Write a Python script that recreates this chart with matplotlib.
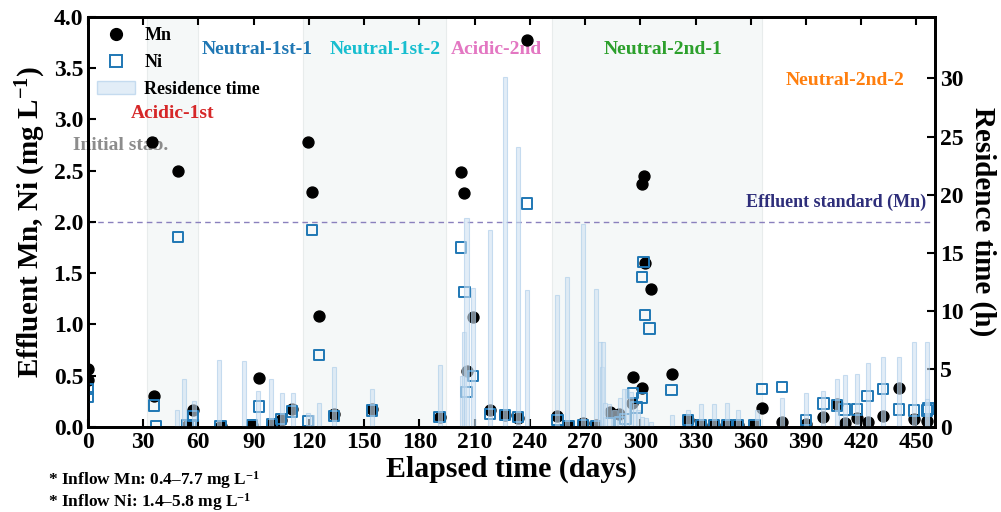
import matplotlib
matplotlib.use("Agg")
import matplotlib.pyplot as plt
from matplotlib.lines import Line2D
from matplotlib.patches import Patch

plt.rcParams['font.family'] = ['Liberation Serif', 'DejaVu Serif']
plt.rcParams['font.weight'] = 'bold'
plt.rcParams['mathtext.fontset'] = 'custom'
plt.rcParams['mathtext.rm'] = 'Liberation Serif:bold'
plt.rcParams['mathtext.it'] = 'Liberation Serif:bold'
plt.rcParams['mathtext.bf'] = 'Liberation Serif:bold'

# ---------------- data ----------------
mn_day = [0, 0, 35, 36, 49, 54, 57, 72, 89, 93, 100, 105, 111, 119.6, 121.7, 125.6,
          133.7, 154.3, 191, 202.5, 204.5, 206, 209, 218.5, 226.7, 233.7, 238.6, 255,
          261, 269, 276, 283.5, 288.5, 295.6, 296.3, 301, 300.8, 301.8, 302.7, 306, 317,
          326, 333, 340, 347, 353, 362, 366, 377, 390, 399.5, 406.7, 411, 417.6, 423.5,
          432, 440.5, 448.6, 455.6]
mn_val = [0.57, 0.46, 2.78, 0.30, 2.50, 0.01, 0.17, 0.01, 0.02, 0.48, 0.03, 0.07, 0.18,
          2.78, 2.29, 1.08, 0.13, 0.18, 0.10, 2.49, 2.28, 0.55, 1.07, 0.17, 0.12, 0.09,
          3.77, 0.11, 0.01, 0.04, 0.02, 0.15, 0.13, 0.23, 0.49, 0.38, 2.37, 2.45, 1.60,
          1.35, 0.52, 0.07, 0.02, 0.02, 0.02, 0.02, 0.02, 0.19, 0.05, 0.03, 0.10, 0.22,
          0.04, 0.09, 0.05, 0.11, 0.38, 0.08, 0.06]

ni_day = [0, 0, 36, 37, 49, 54, 56, 57, 72, 89, 93, 100, 105, 111, 119.6, 121.7, 125.6,
          133.7, 154.3, 191, 202.5, 204.5, 205.6, 209, 218.5, 226.7, 233.7, 238.6, 255,
          261, 269, 276, 283, 289, 292, 296, 298, 301, 300.8, 301.8, 302.5, 305, 317, 326,
          333, 340, 347, 353, 362, 366, 377, 390, 399.5, 406.7, 411, 417.6, 423.5, 432,
          440.5, 448.6, 455.6, 456.5]
ni_val = [0.37, 0.29, 0.21, 0.01, 1.85, 0.02, 0.02, 0.11, 0.01, 0.02, 0.20, 0.03, 0.08,
          0.15, 0.06, 1.92, 0.70, 0.11, 0.16, 0.10, 1.75, 1.32, 0.34, 0.50, 0.13, 0.12,
          0.10, 2.18, 0.07, 0.01, 0.02, 0.01, 0.04, 0.05, 0.08, 0.33, 0.19, 0.28, 1.46,
          1.61, 1.09, 0.96, 0.36, 0.07, 0.02, 0.02, 0.02, 0.02, 0.02, 0.37, 0.39, 0.07,
          0.23, 0.21, 0.17, 0.17, 0.30, 0.37, 0.17, 0.16, 0.16, 0.18]

rt_day = [48.5, 52, 57.6, 71, 85, 92.5, 99.5, 105.5, 111.4, 119.6, 121.7, 125.6, 133.7,
          154.3, 191, 203, 204, 205.6, 209, 218.5, 226.7, 233.7, 238.6, 255, 260.4, 269,
          276, 278, 279, 280, 281, 283, 286, 289, 291, 293, 295, 297, 299, 301, 303, 306,
          317, 326, 333, 340, 347, 353, 363.6, 377, 390, 399.5, 406.7, 411, 417.6, 423.5,
          432, 440.5, 448.6, 455.6, 456]
rt_val = [1.5, 4.1, 2.2, 5.8, 5.7, 3.1, 4.1, 2.9, 2.9, 1.2, 1.0, 2.1, 5.2, 3.3, 5.3, 4.4,
          8.2, 18.0, 12.0, 17.0, 30.1, 24.1, 11.8, 11.4, 12.9, 17.5, 11.9, 7.3, 5.2, 7.3,
          2.1, 2.0, 1.5, 2.5, 3.3, 3.3, 3.0, 2.0, 1.5, 0.9, 0.8, 0.4, 1.0, 1.5, 2.0, 2.0,
          2.1, 1.5, 1.5, 2.5, 2.9, 3.1, 4.1, 4.5, 4.6, 5.5, 6.0, 6.0, 7.3, 7.3, 2.4]

shaded_spans = [(32, 60), (117, 194.5), (252, 366)]
phase_names = ["Initial stab.", "Acidic-1st", "Neutral-1st-1", "Neutral-1st-2",
               "Acidic-2nd", "Neutral-2nd-1", "Neutral-2nd-2"]
phase_x = [17.5, 46, 92, 161.5, 222, 312.5, 411.5]
phase_y = [2.75, 3.06, 3.68, 3.68, 3.68, 3.68, 3.38]
phase_colors = ["#8c8c8c", "#d62728", "#1f77b4", "#17becf", "#e377c2", "#2ca02c", "#ff7f0e"]

standard_mn = 2.0
x_ticks = list(range(0, 451, 30))
y_ticks = [0.0, 0.5, 1.0, 1.5, 2.0, 2.5, 3.0, 3.5, 4.0]
y2_ticks = [0, 5, 10, 15, 20, 25, 30]

# ---------------- figure ----------------
fig = plt.figure(figsize=(10.01, 5.12), dpi=100)
ax = fig.add_axes([0.0879, 0.166, 0.846, 0.801])
ax2 = ax.twinx()

for a, b in shaded_spans:
    ax.axvspan(a, b, facecolor="#f5f8f8", edgecolor="#e8ecec", linewidth=0.8, zorder=0)

ax.axhline(standard_mn, color="#8a80bd", linestyle=(0, (4, 3)), linewidth=1.0, zorder=1)
ax.text(455, 2.19, "Effluent standard (Mn)", color="#2e2e7a", fontsize=13,
        fontweight="bold", ha="right", va="center", zorder=1)

for name, xx, yy, cc in zip(phase_names, phase_x, phase_y, phase_colors):
    ax.text(xx, yy, name, color=cc, fontsize=14, fontweight="bold",
            ha="center", va="center", zorder=1)

ax.scatter(mn_day, mn_val, s=62, color="black", marker="o", zorder=3, label="Mn")
ax.scatter(ni_day, ni_val, s=55, facecolors="none", edgecolors="#1f77b4",
           linewidths=1.4, marker="s", zorder=4, label="Ni")

ax2.bar(rt_day, rt_val, width=2.2, color="#cfe1f2", alpha=0.6,
        edgecolor="#a9cbe8", linewidth=0.8, zorder=2, label="Residence time")

ax.set_xlim(0, 460)
ax.set_ylim(0, 4.0)
ax2.set_ylim(0, 35.3)
ax.set_xticks(x_ticks)
ax.set_yticks(y_ticks)
ax.set_yticklabels([f"{v:.1f}" for v in y_ticks])
ax2.set_yticks(y2_ticks)

ax.tick_params(axis="both", which="major", direction="in", length=6, width=1.5,
               labelsize=17, top=True, right=False)
ax2.tick_params(axis="y", direction="in", length=6, width=1.5, labelsize=17)
for a in (ax, ax2):
    for sp in a.spines.values():
        sp.set_linewidth(2.0)
    for lab in a.get_xticklabels() + a.get_yticklabels():
        lab.set_fontweight("bold")

ax.set_xlabel("Elapsed time (days)", fontsize=21.5, fontweight="bold", labelpad=2)
ax.set_ylabel("Effluent Mn, Ni (mg L$^{-1}$)", fontsize=21, fontweight="bold", labelpad=4)
ax2.set_ylabel("Residence time (h)", fontsize=21, fontweight="bold", rotation=270,
               labelpad=24)

handles = [
    Line2D([], [], marker="o", color="black", linestyle="none", markersize=8.5, label="Mn"),
    Line2D([], [], marker="s", markerfacecolor="none", markeredgecolor="#1f77b4",
           markeredgewidth=1.4, linestyle="none", markersize=8, label="Ni"),
    Patch(facecolor="#cfe1f2", alpha=0.6, edgecolor="#a9cbe8", label="Residence time"),
]
leg = ax2.legend(handles=handles, loc="upper left", bbox_to_anchor=(-0.004, 1.006),
                 frameon=False, fontsize=13, handlelength=2.1, labelspacing=0.55,
                 borderaxespad=0.3, handletextpad=0.5)
for t in leg.get_texts():
    t.set_fontweight("bold")

fig.text(0.048, 0.062, "* Inflow Mn: 0.4–7.7 mg L$^{-1}$", fontsize=12.5,
         fontweight="bold", ha="left", va="center")
fig.text(0.048, 0.020, "* Inflow Ni: 1.4–5.8 mg L$^{-1}$", fontsize=12.5,
         fontweight="bold", ha="left", va="center")

fig.savefig("out.png", dpi=100)
